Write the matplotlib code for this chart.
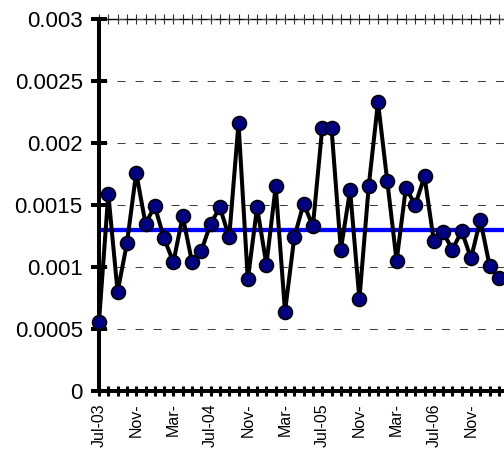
import matplotlib
matplotlib.use('Agg')
import matplotlib.pyplot as plt
import numpy as np

plt.rcParams['font.family'] = ['Liberation Sans', 'DejaVu Sans']

# monthly values starting Jul-03
values = [0.00056, 0.00159, 0.00080, 0.00119, 0.00176, 0.00135, 0.00149, 0.00123,
          0.00104, 0.00141, 0.00104, 0.00113, 0.00135, 0.00148, 0.00124, 0.00216,
          0.00090, 0.00148, 0.00102, 0.00165, 0.00064, 0.00124, 0.00151, 0.00133,
          0.00212, 0.00212, 0.00114, 0.00162, 0.00074, 0.00165, 0.00233, 0.00169,
          0.00105, 0.00164, 0.00150, 0.00173, 0.00121, 0.00128, 0.00114, 0.00129,
          0.00107, 0.00138, 0.00101, 0.00091]
mean_value = 0.0013

x_labels = ['Jul-03', 'Nov-', 'Mar-', 'Jul-04', 'Nov-', 'Mar-',
            'Jul-05', 'Nov-', 'Mar-', 'Jul-06', 'Nov-']
y_ticks = [0, 0.0005, 0.001, 0.0015, 0.002, 0.0025, 0.003]
y_labels = ['0', '0.0005', '0.001', '0.0015', '0.002', '0.0025', '0.003']

n_months = 47
px_month = 9.30

fig = plt.figure(figsize=(5.04, 4.5), dpi=100)
ax = fig.add_axes([99 / 504, 59 / 450, n_months * px_month / 504, 372 / 450])

x = np.arange(len(values))
ax.axhline(mean_value, color='#0000FF', lw=3.1, zorder=2)
ax.plot(x, values, color='black', lw=2.9, marker='o', markersize=10,
        markerfacecolor='#000080', markeredgecolor='black', markeredgewidth=1.2,
        zorder=3, clip_on=False)

ax.set_xlim(0, n_months)
ax.set_ylim(0, 0.003)

ax.set_yticks(y_ticks)
ax.set_yticklabels(y_labels, fontsize=16)
ax.set_xticks(np.arange(0, 4 * len(x_labels), 4))
ax.set_xticklabels(x_labels, rotation=90, fontsize=11.5)
ax.set_xticks(np.arange(0, n_months + 1), minor=True)

ax.tick_params(axis='y', direction='inout', length=11.5, width=2.9, pad=6)
ax.tick_params(axis='x', which='both', direction='inout', length=6.5, width=2.2, pad=5.5)

ax.grid(axis='y', color='#404040', lw=0.75, linestyle=(0, (7.7, 9.6)))

for s in ['right', 'top']:
    ax.spines[s].set_visible(False)
ax.spines['left'].set_linewidth(2.9)
ax.spines['bottom'].set_linewidth(2.9)

top = ax.secondary_xaxis('top')
top.set_xticks(np.arange(0, n_months + 1))
top.tick_params(direction='inout', length=6.5, width=0.8, color='#333333', labeltop=False)
top.spines['top'].set_linewidth(1.0)

fig.savefig('out.png', dpi=100)
